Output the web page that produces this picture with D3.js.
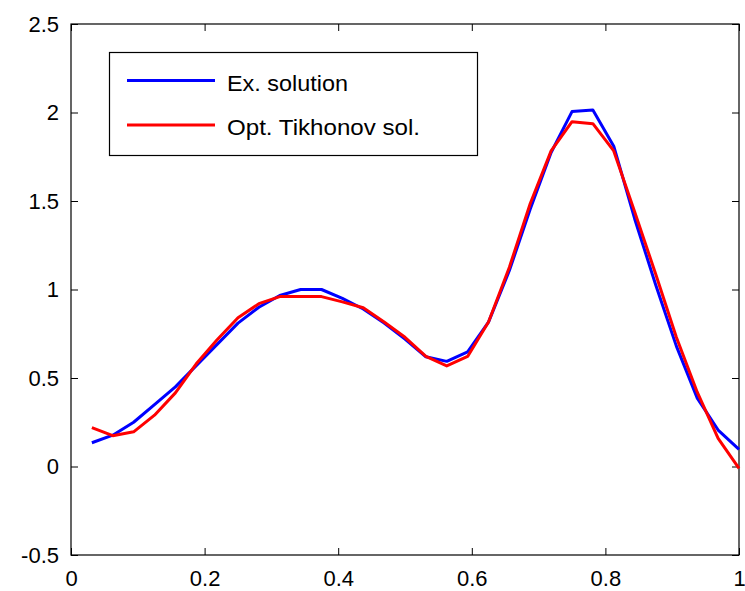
<!DOCTYPE html>
<html>
<head>
<meta charset="utf-8">
<script src="https://cdn.jsdelivr.net/npm/d3@7/dist/d3.min.js"></script>
<style>
  html, body { margin: 0; padding: 0; background: #fff; }
  svg { display: block; }
  text { font-family: "Liberation Sans", Arial, sans-serif; fill: #000; }
</style>
</head>
<body>
<svg id="chart" width="745" height="591"></svg>
<script>
const xs = [0.03125, 0.0625, 0.09375, 0.125, 0.15625, 0.1875, 0.21875, 0.25,
            0.28125, 0.3125, 0.34375, 0.375, 0.40625, 0.4375, 0.46875, 0.5,
            0.53125, 0.5625, 0.59375, 0.625, 0.65625, 0.6875, 0.71875, 0.75,
            0.78125, 0.8125, 0.84375, 0.875, 0.90625, 0.9375, 0.96875, 1.0];
const exactSol = [0.134, 0.177, 0.25, 0.35, 0.45, 0.57, 0.69, 0.81,
                  0.90, 0.966, 1.0, 1.0, 0.95, 0.89, 0.81, 0.72,
                  0.62, 0.594, 0.647, 0.816, 1.107, 1.455, 1.774, 2.005,
                  2.014, 1.81, 1.40, 1.03, 0.68, 0.386, 0.206, 0.097];
const tikhSol = [0.22, 0.174, 0.196, 0.29, 0.416, 0.58, 0.716, 0.84,
                 0.92, 0.96, 0.96, 0.96, 0.93, 0.897, 0.816, 0.73,
                 0.622, 0.568, 0.622, 0.816, 1.126, 1.486, 1.783, 1.948,
                 1.937, 1.783, 1.44, 1.09, 0.73, 0.42, 0.159, -0.01];
const xTicks = [0, 0.2, 0.4, 0.6, 0.8, 1];
const yTicks = [-0.5, 0, 0.5, 1, 1.5, 2, 2.5];
const seriesNames = ["Ex. solution", "Opt. Tikhonov sol."];
const seriesColors = ["#0000ff", "#ff0000"];

const svg = d3.select("#chart");
const L = 71, R = 739, T = 24, B = 555;
const x = d3.scaleLinear().domain([0, 1]).range([L, R]);
const y = d3.scaleLinear().domain([-0.5, 2.5]).range([B, T]);
const tickLen = 7;

// frame
svg.append("rect").attr("x", L).attr("y", T).attr("width", R - L).attr("height", B - T)
  .attr("fill", "none").attr("stroke", "#000").attr("stroke-width", 1.2);

const fmt = d => String(d);

// axes with inward ticks
const gx = svg.append("g").attr("transform", `translate(0,${B})`)
  .call(d3.axisBottom(x).tickValues(xTicks).tickSize(-tickLen).tickPadding(15).tickFormat(fmt));
const gxt = svg.append("g").attr("transform", `translate(0,${T})`)
  .call(d3.axisTop(x).tickValues(xTicks).tickSize(-tickLen).tickFormat(""));
const gy = svg.append("g").attr("transform", `translate(${L},0)`)
  .call(d3.axisLeft(y).tickValues(yTicks).tickSize(-tickLen).tickPadding(12).tickFormat(fmt));
const gyr = svg.append("g").attr("transform", `translate(${R},0)`)
  .call(d3.axisRight(y).tickValues(yTicks).tickSize(-tickLen).tickFormat(""));

[gx, gxt, gy, gyr].forEach(g => {
  g.select(".domain").remove();
  g.selectAll(".tick line").attr("stroke", "#000").attr("stroke-width", 1);
  g.selectAll("text").attr("font-size", "22px").attr("fill", "#000")
    .style("font-family", '"Liberation Sans", Arial, sans-serif');
});

// lines
const line = d3.line().x((d, i) => x(xs[i])).y(d => y(d));
[exactSol, tikhSol].forEach((s, k) => {
  svg.append("path").datum(s).attr("d", line)
    .attr("fill", "none").attr("stroke", seriesColors[k]).attr("stroke-width", 3)
    .attr("stroke-linejoin", "round");
});

// legend
const lg = svg.append("g");
lg.append("rect").attr("x", 109.5).attr("y", 52.5).attr("width", 368).attr("height", 103)
  .attr("fill", "#fff").attr("stroke", "#000").attr("stroke-width", 1.2);
const legY = [80.5, 125];
const legBase = [90.5, 135];
const legLen = [121, 193];
seriesNames.forEach((n, k) => {
  lg.append("line").attr("x1", 127).attr("x2", 215).attr("y1", legY[k]).attr("y2", legY[k])
    .attr("stroke", seriesColors[k]).attr("stroke-width", 3);
  lg.append("text").attr("x", 227).attr("y", legBase[k]).attr("font-size", "22px")
    .attr("textLength", legLen[k]).attr("lengthAdjust", "spacingAndGlyphs").text(n);
});
</script>
</body>
</html>
